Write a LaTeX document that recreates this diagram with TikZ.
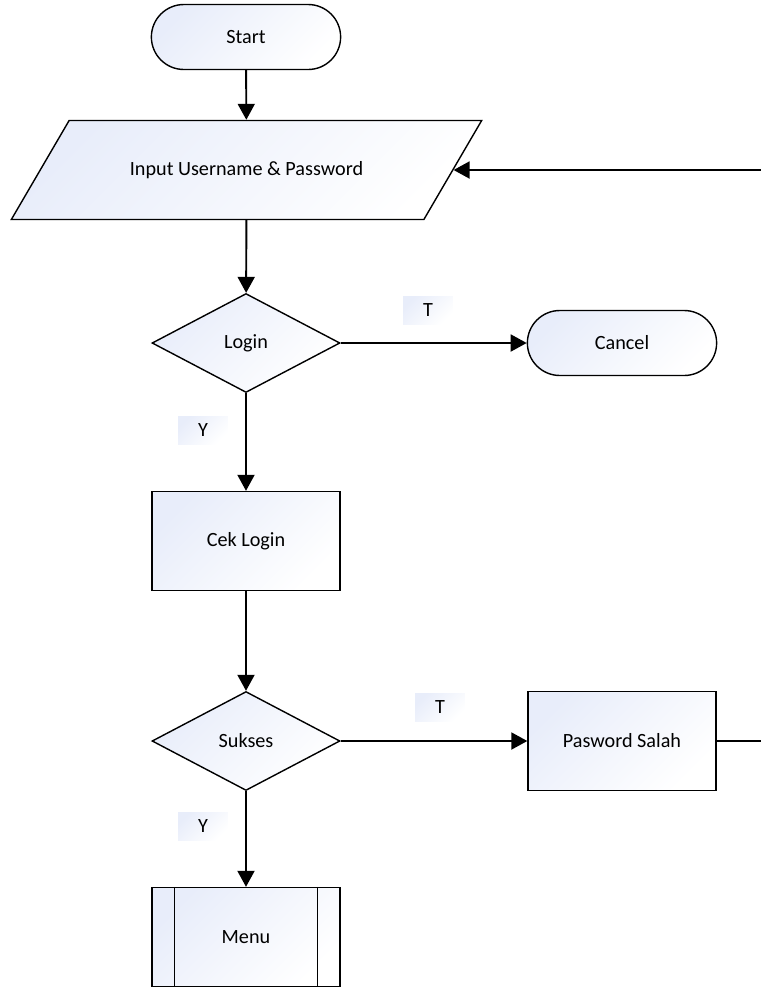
\documentclass[tikz,border=0pt]{standalone}
\usepackage{fontspec}
\setmainfont{Carlito}
\usetikzlibrary{arrows.meta, positioning, shapes.geometric, shapes.misc}

\definecolor{flowfill}{RGB}{232,237,250}

\begin{document}
\begin{tikzpicture}[x=0.02cm, y=-0.02cm,
    font=\fontsize{11.5}{14}\selectfont,
    every node/.style={line width=0.8pt},
    flowshade/.style={top color=flowfill, bottom color=white, shading angle=45},
    terminal/.style={rounded rectangle, draw, flowshade, minimum width=4.02cm, minimum height=1.3cm},
    procbox/.style={rectangle, draw, flowshade, minimum width=3.76cm, minimum height=1.98cm},
    decision/.style={diamond, draw, flowshade, minimum width=3.76cm, minimum height=1.98cm, inner sep=0pt},
    iobox/.style={trapezium, trapezium left angle=36, trapezium right angle=144, trapezium stretches,
      draw, flowshade, minimum width=9.42cm, minimum height=1.98cm},
    lab/.style={flowshade, minimum width=1cm, minimum height=0.56cm, inner sep=0pt},
    flow/.style={line width=1.1pt, -{Triangle[length=0.32cm, width=0.34cm]}}]
      \useasboundingbox (0,0) rectangle (761,988);

      \node[terminal] (start) at (246,37) {Start};
      \node[iobox] (input) at (246.5,170) {Input Username \& Password};
      \node[decision] (login) at (246,343) {Login};
      \node[terminal] (cancel) at (622,343) {Cancel};
      \node[procbox] (cek) at (246,541) {Cek Login};
      \node[decision] (sukses) at (246,741) {Sukses};
      \node[procbox] (salah) at (622,741) {Pasword Salah};
      \node[procbox] (menu) at (246,937) {Menu};
      \draw[line width=0.8pt] ([xshift=0.46cm]menu.north west) -- ([xshift=0.46cm]menu.south west);
      \draw[line width=0.8pt] ([xshift=-0.46cm]menu.north east) -- ([xshift=-0.46cm]menu.south east);

      \node[lab] (t1) at (428,310) {T};
      \node[lab] (y1) at (203,430) {Y};
      \node[lab] (t2) at (440,707) {T};
      \node[lab] (y2) at (203,826) {Y};

      \coordinate (back1) at (772,741);
      \coordinate (back2) at (772,170);

      \draw[flow] (start) -- (input);
      \draw[flow] (input) -- (login);
      \draw[flow] (login) -- (cancel);
      \draw[flow] (login) -- (cek);
      \draw[flow] (cek) -- (sukses);
      \draw[flow] (sukses) -- (salah);
      \draw[flow] (sukses) -- (menu);
      \draw[flow] (salah.east) -- (back1) -- (back2) -- (input.east);
    \end{tikzpicture}
\end{document}
